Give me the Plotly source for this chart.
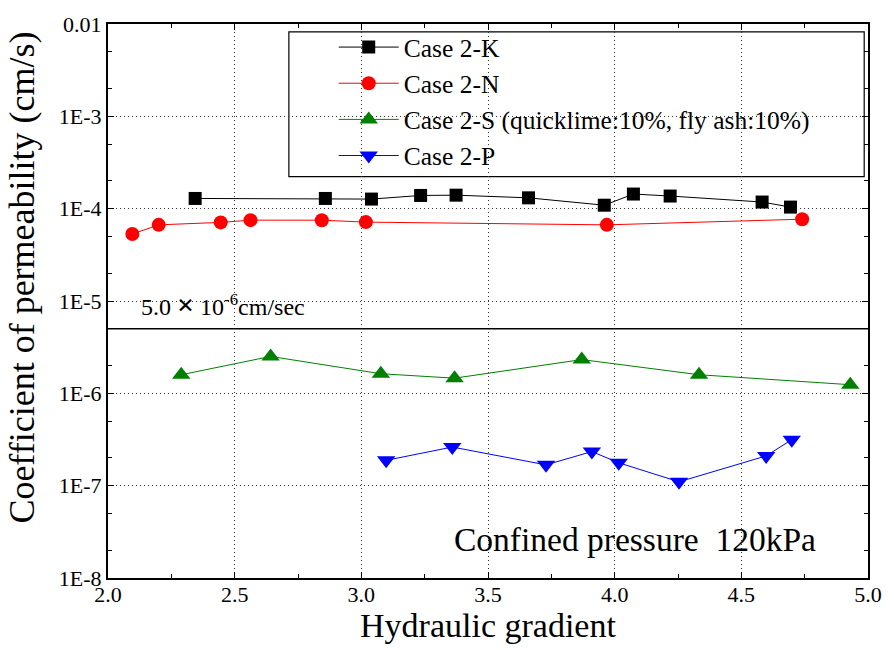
import math
import plotly.graph_objects as go

# Data
k_x = [2.344, 2.858, 3.040, 3.234, 3.374, 3.660, 3.959, 4.074, 4.219, 4.582, 4.694]
k_y = [1.29e-4, 1.29e-4, 1.27e-4, 1.39e-4, 1.40e-4, 1.31e-4, 1.09e-4, 1.44e-4, 1.37e-4, 1.18e-4, 1.04e-4]

n_x = [2.096, 2.200, 2.445, 2.5625, 2.844, 3.018, 3.969, 4.740]
n_y = [5.31e-5, 6.68e-5, 7.10e-5, 7.51e-5, 7.50e-5, 7.15e-5, 6.68e-5, 7.69e-5]

s_x = [2.289, 2.642, 3.077, 3.368, 3.870, 4.333, 4.930]
s_y = [1.59e-6, 2.51e-6, 1.63e-6, 1.46e-6, 2.32e-6, 1.59e-6, 1.24e-6]

p_x = [3.098, 3.359, 3.729, 3.910, 4.016, 4.254, 4.598, 4.699]
p_y = [1.88e-7, 2.62e-7, 1.68e-7, 2.34e-7, 1.77e-7, 1.10e-7, 2.10e-7, 3.15e-7]

names = ["Case 2-K", "Case 2-N", "Case 2-S (quicklime:10%, fly ash:10%)", "Case 2-P"]
colors = ["black", "red", "green", "blue"]
symbols = ["square", "circle", "triangle-up", "triangle-down"]
sizes = [13, 14, 16, 16]

limit_value = 5.0e-6
x_ticks = [2.0, 2.5, 3.0, 3.5, 4.0, 4.5, 5.0]
x_ticktext = ["2.0", "2.5", "3.0", "3.5", "4.0", "4.5", "5.0"]
y_ticks = [1e-2, 1e-3, 1e-4, 1e-5, 1e-6, 1e-7, 1e-8]
y_ticktext = ["0.01", "1E-3", "1E-4", "1E-5", "1E-6", "1E-7", "1E-8"]

FONT = "Liberation Serif, Times New Roman, serif"

fig = go.Figure()
for xs, ys, nm, c, sym, sz in zip([k_x, n_x, s_x, p_x], [k_y, n_y, s_y, p_y],
                                  names, colors, symbols, sizes):
    fig.add_trace(go.Scatter(
        x=xs, y=ys, name=nm, mode="lines+markers",
        line=dict(color=c, width=1),
        marker=dict(symbol=sym, size=sz, color=c, line=dict(width=0)),
    ))

# 5.0e-6 limit line
fig.add_shape(type="line", xref="paper", x0=0, x1=1, yref="y",
              y0=limit_value, y1=limit_value, line=dict(color="black", width=1.5))

fig.add_annotation(x=0.041, xref="paper", y=math.log10(limit_value), yref="y",
                   text="5.0 <span style='font-size:30px'><b>\u00d7</b></span> 10<sup>-6</sup>cm/sec",
                   showarrow=False, xanchor="left", yanchor="bottom", yshift=6,
                   font=dict(family=FONT, size=24, color="black"))

fig.add_annotation(x=0.452, xref="paper", y=0.07, yref="paper",
                   text="Confined pressure\u00a0\u00a0120kPa", showarrow=False,
                   xanchor="left", yanchor="middle",
                   font=dict(family=FONT, size=33.5, color="black"))

# y-axis title (placed like the reference, slightly above centre)
fig.add_annotation(x=-0.1133, xref="paper", y=0.542, yref="paper",
                   text="Coefficient of permeability (cm/s)", showarrow=False,
                   textangle=-90, xanchor="center", yanchor="middle",
                   font=dict(family=FONT, size=36, color="black"))

# legend frame
fig.add_shape(type="rect", xref="paper", yref="paper",
              x0=0.238, x1=0.995, y0=0.7245, y1=0.9857,
              line=dict(color="black", width=1.2), fillcolor="white", layer="below")

fig.update_layout(
    width=894, height=650,
    margin=dict(l=108, r=18, t=19, b=72),
    paper_bgcolor="white", plot_bgcolor="rgba(0,0,0,0)",
    font=dict(family=FONT, size=22, color="black"),
    legend=dict(x=0.297, y=1.0, xanchor="left", yanchor="top",
                borderwidth=0, bgcolor="rgba(0,0,0,0)",
                font=dict(family=FONT, size=25.5, color="black"),
                itemwidth=60, tracegroupgap=0),
    showlegend=True,
)

GRID_DASH = "1px,3px"

fig.update_xaxes(
    range=[2.0, 5.0], tickvals=x_ticks, ticktext=x_ticktext,
    showline=True, linecolor="black", linewidth=2, mirror="ticks",
    ticks="inside", ticklen=6, tickcolor="black", ticklabelstandoff=-4,
    minor=dict(dtick=0.25, ticks="inside", ticklen=4, tickcolor="black", showgrid=False),
    showgrid=True, gridcolor="#333333", griddash=GRID_DASH, gridwidth=1,
    zeroline=False,
    title=dict(text="Hydraulic gradient", font=dict(family=FONT, size=34), standoff=0),
    tickfont=dict(family=FONT, size=22),
)

fig.update_yaxes(
    type="log", range=[-8, -2], tickvals=y_ticks, ticktext=y_ticktext,
    showline=True, linecolor="black", linewidth=2, mirror="ticks",
    ticks="inside", ticklen=6, tickcolor="black",
    minor=dict(ticks="inside", ticklen=4, tickcolor="black", showgrid=False),
    showgrid=True, gridcolor="#333333", griddash=GRID_DASH, gridwidth=1,
    zeroline=False,
    tickfont=dict(family=FONT, size=22),
)

fig.write_html("out.html")
